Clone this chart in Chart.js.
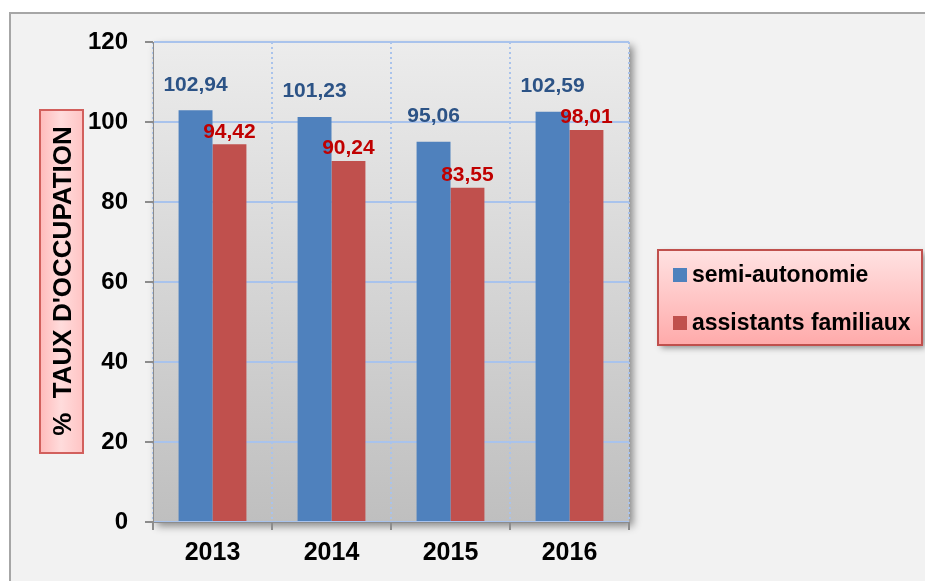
<!DOCTYPE html>
<html>
<head>
<meta charset="utf-8">
<script src="https://cdn.jsdelivr.net/npm/chart.js@4.4.1/dist/chart.umd.min.js"></script>
<style>
  html, body { margin: 0; padding: 0; background: #ffffff; }
  #wrap { width: 925px; height: 581px; position: relative; }
</style>
</head>
<body>
<div id="wrap"><canvas id="chart" width="925" height="581"></canvas></div>
<script>
const YEARS = ["2013", "2014", "2015", "2016"];
const SEMI_AUTONOMIE = [102.94, 101.23, 95.06, 102.59];
const ASSISTANTS = [94.42, 90.24, 83.55, 98.01];
const Y_TICKS = [0, 20, 40, 60, 80, 100, 120];
const SERIES_NAMES = ["semi-autonomie", "assistants familiaux"];
const Y_TITLE = "%  TAUX D'OCCUPATION";

const BLUE = "#4f81bd";
const RED = "#c0504d";
const FONT = "'Liberation Sans', Arial, sans-serif";

// frame, plot background, y title box and legend box
const backdrop = {
  id: "backdrop",
  beforeDraw(chart) {
    const ctx = chart.ctx;
    const a = chart.chartArea;
    ctx.save();
    ctx.fillStyle = "#ffffff";
    ctx.fillRect(0, 0, chart.width, chart.height);
    ctx.fillStyle = "#f2f2f2";
    ctx.fillRect(10, 13, chart.width, chart.height);
    ctx.strokeStyle = "#a6a6a6";
    ctx.lineWidth = 2;
    ctx.strokeRect(10, 13, chart.width + 20, chart.height + 20);

    // plot area with shadow
    ctx.save();
    ctx.shadowColor = "rgba(0,0,0,0.45)";
    ctx.shadowBlur = 8;
    ctx.shadowOffsetX = 4;
    ctx.shadowOffsetY = 4;
    const g = ctx.createLinearGradient(0, a.top, 0, a.bottom);
    g.addColorStop(0, "#ececec");
    g.addColorStop(1, "#bfbfbf");
    ctx.fillStyle = g;
    ctx.fillRect(a.left, a.top, a.right - a.left, a.bottom - a.top);
    ctx.restore();

    // y title box
    const tg = ctx.createLinearGradient(39, 0, 83, 0);
    tg.addColorStop(0, "#ffb9b9");
    tg.addColorStop(0.5, "#ffdcdc");
    tg.addColorStop(1, "#ffc4c4");
    ctx.fillStyle = tg;
    ctx.fillRect(40, 110, 43, 343);
    ctx.strokeStyle = "#d2605d";
    ctx.lineWidth = 2;
    ctx.strokeRect(40, 110, 43, 343);
    ctx.translate(63, 281);
    ctx.rotate(-Math.PI / 2);
    ctx.fillStyle = "#000000";
    ctx.font = "bold 26px " + FONT;
    ctx.textAlign = "center";
    ctx.textBaseline = "middle";
    ctx.fillText(Y_TITLE, 0, 1);
    ctx.restore();

    // legend
    ctx.save();
    ctx.shadowColor = "rgba(0,0,0,0.4)";
    ctx.shadowBlur = 6;
    ctx.shadowOffsetX = 3;
    ctx.shadowOffsetY = 3;
    const lg = ctx.createLinearGradient(0, 250, 0, 345);
    lg.addColorStop(0, "#ffe2e2");
    lg.addColorStop(1, "#ffaaaa");
    ctx.fillStyle = lg;
    ctx.fillRect(658, 250, 264, 95);
    ctx.restore();
    ctx.save();
    ctx.strokeStyle = "#c0504d";
    ctx.lineWidth = 2;
    ctx.strokeRect(658, 250, 264, 95);
    ctx.font = "bold 23px " + FONT;
    ctx.textBaseline = "middle";
    chart.data.datasets.forEach((ds, i) => {
      const y = 275 + i * 48;
      ctx.fillStyle = ds.backgroundColor;
      ctx.fillRect(673, y - 7, 14, 14);
      ctx.fillStyle = "#000000";
      ctx.fillText(ds.label, 692, y + 1);
    });
    ctx.restore();
  }
};

// value labels above bars
const valueLabels = {
  id: "valueLabels",
  afterDatasetsDraw(chart) {
    const ctx = chart.ctx;
    ctx.save();
    ctx.font = "bold 21px " + FONT;
    ctx.textAlign = "center";
    ctx.textBaseline = "bottom";
    chart.data.datasets.forEach((ds, i) => {
      const meta = chart.getDatasetMeta(i);
      ctx.fillStyle = i === 0 ? "#2c5386" : "#c00000";
      const gap = i === 0 ? 15 : 2;
      meta.data.forEach((bar, j) => {
        const txt = ds.data[j].toFixed(2).replace(".", ",");
        ctx.fillText(txt, bar.x, bar.y - gap);
      });
    });
    ctx.restore();
  }
};

new Chart(document.getElementById("chart"), {
  type: "bar",
  data: {
    labels: YEARS,
    datasets: [
      { label: SERIES_NAMES[0], data: SEMI_AUTONOMIE, backgroundColor: BLUE },
      { label: SERIES_NAMES[1], data: ASSISTANTS, backgroundColor: RED }
    ]
  },
  options: {
    responsive: false,
    animation: false,
    devicePixelRatio: 1,
    layout: { padding: { top: 42, right: 296, left: 0, bottom: 0 } },
    categoryPercentage: 0.57,
    barPercentage: 1,
    plugins: { legend: { display: false }, tooltip: { enabled: false } },
    scales: {
      x: {
        afterFit(s) { s.height = 59; },
        grid: {
          color: "#a9c3ec",
          lineWidth: 2,
          tickColor: "#8c8c8c",
          tickLength: 8,
          tickBorderDash: [],
          offset: true
        },
        border: { color: "#8c8c8c", width: 1, dash: [2, 3] },
        ticks: { color: "#000000", font: { family: FONT, size: 25, weight: "bold" }, padding: 8 }
      },
      y: {
        min: 0,
        max: 120,
        afterFit(s) { s.width = 153; },
        afterBuildTicks(s) { s.ticks = Y_TICKS.map(v => ({ value: v })); },
        grid: { color: "#a9c3ec", lineWidth: 2, tickColor: "#8c8c8c", tickLength: 8 },
        border: { color: "#8c8c8c", width: 1 },
        ticks: { color: "#000000", font: { family: FONT, size: 24, weight: "bold" }, padding: 17 }
      }
    }
  },
  plugins: [backdrop, valueLabels]
});
</script>
</body>
</html>
